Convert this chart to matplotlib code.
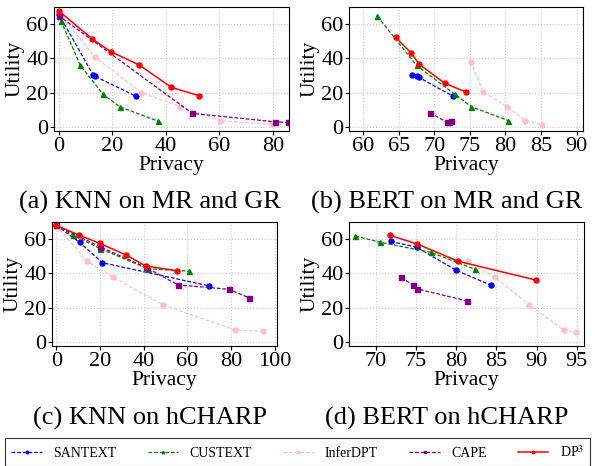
import numpy as np
import matplotlib
matplotlib.use('Agg')
import matplotlib.pyplot as plt

plt.rcParams['font.family'] = ['Liberation Serif', 'DejaVu Serif']
plt.rcParams['mathtext.fontset'] = 'stix'

methods = ['SANTEXT', 'CUSTEXT', 'InferDPT', 'CAPE', 'DP$^3$']
colors = ['blue', 'green', 'pink', 'purple', 'red']
styles = ['--', '--', '--', '--', '-']
markers = ['o', '^', 'o', 's', 'o']

# (a) KNN on MR and GR
a_x = [
    [0, 13, 13.6, 28.8],
    [0, 0.9, 8.1, 16.6, 22.8, 37],
    [0, 13.5, 30.8, 45.5, 60.4, 79.6],
    [0, 49.9, 80.6, 85.5],
    [0, 12.6, 19.5, 30.1, 42.1, 52.5],
]
a_y = [
    [66, 30, 29.5, 17.9],
    [65, 62, 35.9, 18.9, 11.7, 3.3],
    [67, 40.9, 20, 11.7, 3.5, 1.4],
    [65, 7.8, 2.9, 2.5],
    [67.8, 51.3, 43.9, 36.1, 23, 18.1],
]

# (b) BERT on MR and GR
b_x = [
    [66.9, 67.5, 67.8, 72.6],
    [62, 67.5, 72.9, 75.2, 80.4],
    [75.1, 76.9, 80.25, 82.8, 85.2],
    [69.4, 71.8, 72.1, 72.3],
    [64.55, 66.75, 67.9, 71.5, 74.5],
]
b_y = [
    [30.2, 29.5, 28.9, 17.9],
    [64.5, 35.8, 18.9, 11.7, 3.6],
    [38.1, 20.2, 11.7, 3.6, 0.9],
    [8.1, 2.5, 3.0, 3.3],
    [52.3, 43, 36.4, 25.3, 20.2],
]

# (c) KNN on hCHARP
c_x = [
    [0, 10.7, 21, 70.1],
    [0, 7.4, 20.2, 41.8, 60.8],
    [0, 14.1, 26, 49, 81.9, 94.6],
    [0, 20, 41, 55.7, 79, 88],
    [0, 10.4, 19.9, 31.9, 40.9, 55.4],
]
c_y = [
    [68, 58.1, 46.2, 32.6],
    [68, 62.5, 54.4, 42.7, 41.2],
    [68, 47, 37.7, 21.4, 6.8, 6],
    [68, 55.5, 43.5, 33.2, 30.7, 25.8],
    [68, 62.3, 57.5, 50.7, 44.3, 41.4],
]

# (d) BERT on hCHARP
d_x = [
    [71.9, 75.1, 80, 84.3],
    [67.5, 70.5, 76.9, 82.3],
    [81.5, 84.8, 89.1, 93.4, 94.9],
    [73.2, 74.65, 75.1, 81.3],
    [71.8, 75.2, 80.3, 89.9],
]
d_y = [
    [58.6, 55.3, 41.8, 33.1],
    [61.8, 58.2, 52.2, 42.5],
    [47.3, 37.6, 21.6, 6.7, 5.9],
    [37.6, 33.1, 31, 23.9],
    [62.2, 57.1, 47, 36.1],
]

panels = [
    (a_x, a_y, [0, 20, 40, 60, 80], (-1.7, 86), '(a) KNN on MR and GR'),
    (b_x, b_y, [60, 65, 70, 75, 80, 85, 90], (58, 90.9), '(b) BERT on MR and GR'),
    (c_x, c_y, [0, 20, 40, 60, 80, 100], (-2, 101), '(c) KNN on hCHARP'),
    (d_x, d_y, [70, 75, 80, 85, 90, 95], (66.7, 95.9), '(d) BERT on hCHARP'),
]

W, H = 595, 466
# pixel boxes: left, top, right, bottom
boxes = [(54, 7, 289, 131), (349, 7, 583, 131), (52, 222, 277, 346), (349, 222, 584, 346)]
captions_pos = [(150, 202), (447, 202), (150, 418), (447, 418)]

fig = plt.figure(figsize=(W / 100, H / 100), dpi=100)

for (xs, ys, xticks, xlim, cap), (l, t, r, b), (cx, cy) in zip(panels, boxes, captions_pos):
    ax = fig.add_axes([l / W, 1 - b / H, (r - l) / W, (b - t) / H])
    for i in range(5):
        lw = 1.1 if i == 4 else 0.9
        ax.plot(xs[i], ys[i], color=colors[i], linestyle=styles[i], marker=markers[i],
                markersize=3.6, linewidth=lw, label=methods[i],
                dashes=(3, 1.5) if styles[i] == '--' else (None, None))
    ax.set_xlim(*xlim)
    ax.set_ylim(-2.5, 70)
    ax.set_xticks(xticks)
    ax.set_yticks([0, 20, 40, 60])
    ax.grid(True, color='#cccccc', linestyle=':', linewidth=0.8)
    ax.tick_params(labelsize=16, length=3, pad=1)
    ax.set_xlabel('Privacy', fontsize=15.5, labelpad=0)
    ax.set_ylabel('Utility', fontsize=15.5, labelpad=1)
    fig.text(cx / W, 1 - cy / H, cap, fontsize=19, ha='center', va='center')

handles, labels = ax.get_legend_handles_labels()
leg = fig.legend(handles, labels, loc='lower left', ncol=5, mode='expand',
                 bbox_to_anchor=(5 / W, 0.0, 585 / W, 0.05), borderaxespad=0,
                 fontsize=10, frameon=True, fancybox=False, edgecolor='black',
                 handlelength=2.2, markerscale=0.5, borderpad=0.45)
leg.get_frame().set_linewidth(0.8)

fig.savefig('out.png', dpi=100)
